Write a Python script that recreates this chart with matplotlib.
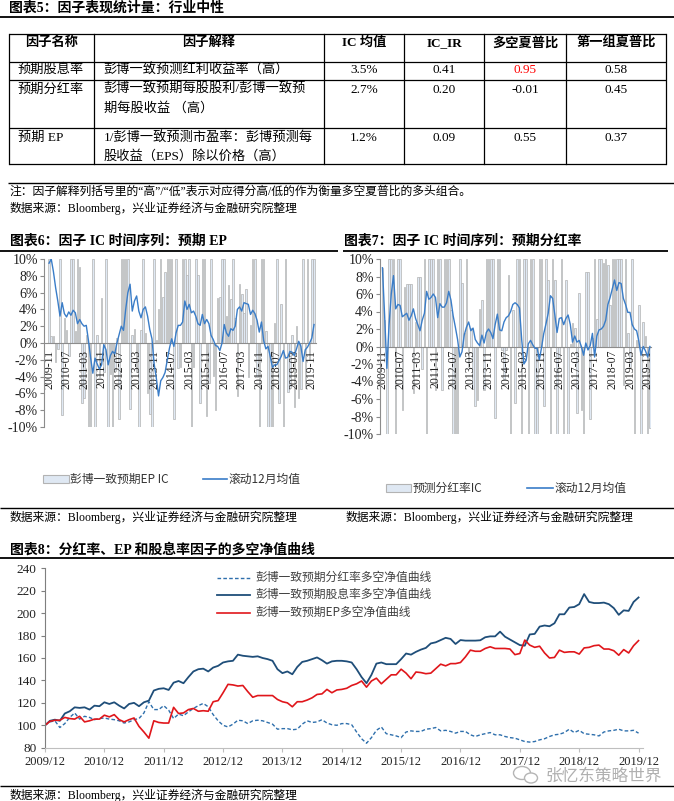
import numpy as np
import matplotlib
matplotlib.use('Agg')
import matplotlib.pyplot as plt
from matplotlib.patches import Rectangle, Ellipse

plt.rcParams['font.family'] = ['Liberation Serif', 'Noto Sans CJK SC', 'DejaVu Sans']
plt.rcParams['axes.unicode_minus'] = False

# ---------------- data ----------------
headers = ['因子名称', '因子解释', 'IC 均值', 'IC_IR', '多空夏普比', '第一组夏普比']
factor_names = ['预期股息率', '预期分红率', '预期 EP']
factor_desc = [['彭博一致预测红利收益率（高）'],
               ['彭博一致预期每股股利/彭博一致预', '期每股收益 （高）'],
               ['1/彭博一致预测市盈率：彭博预测每', '股收益（EPS）除以价格（高）']]
ic_mean = ['3.5%', '2.7%', '1.2%']
ic_ir = ['0.41', '0.20', '0.09']
ls_sharpe = ['0.95', '-0.01', '0.55']
top_sharpe = ['0.58', '0.45', '0.37']

ep_ic = [10, 0.8, 0.8, -2.3, -0.7, 10, -8.6, 3.0,
         1.5, -1.5, 10, 10, 1.4, 10, 9.1, -7.1,
         -6.5, 1.0, -10, -10, 10, -10, 0.9, -4.0,
         5.4, -3.5, 10, -10, -3.7, -10, -3.3, 0.6,
         -9.1, 10, 10, 10, 10, -7.8, 1.0, 1.7,
         -3.5, -10, 1.6, 10, 1.2, -5.9, -8.4, -10,
         10, 0.3, 4.1, 10, 5.5, 8.4, 10, 10,
         10, -9.1, 10, -3.0, -2.8, 10, 10, 8.1,
         10, -10, -2.9, 10, 8.1, -7.1, 10, 10,
         -8.7, -4.8, 10, -3.9, -8.0, 5.4, 5.5, 10,
         10, 3.2, 6.9, 5.2, 10, 3.0, -6.3, 7.0,
         5.8, 3.6, 6.4, -4.1, 2.1, 10, 10, -4.0,
         -10, 10, 10, 1.4, -10, -10, -10, 2.4,
         10, -7.1, 4.6, -10, 10, -5.8, -5.3, 1.0,
         -7.6, 2.0, -6.6, -5.5, 10, -5.4, 10, -2.0,
         10, 10]
ep_ma12 = [9.5, 10.0, 8.5, 6.6, 5.0, 3.2, 4.8, 3.5, 3.1, 3.7,
           3.3, 3.9, 3.6, 2.3, 2.8, 2.3, 2.0, 2.1, 0.3, -1.8,
           -3.6, -1.8, -2.5, -3.1, -2.6, -0.2, -0.8, -2.6, -1.5, -1.0,
           -1.3, 0.0, 1.0, 2.0, 1.5, 4.0, 6.0, 7.0, 3.8, 5.0,
           5.6, 3.8, 3.0, 4.0, 4.3, 3.2, 1.6, 0.5, -2.5, -4.2,
           -6.3, -4.5, -4.1, -3.5, -2.0, -0.6, 0.5, -0.4, 1.2, 2.1,
           2.1, 2.5, 5.0, 4.0, 4.6, 3.6, 3.8, 3.2, 2.3, 2.1,
           3.4, 2.3, 2.8, 2.3, 0.9, 0.4, -0.3, -0.4, -0.9, 0.0,
           2.2, 1.2, 0.8, 1.7, 1.5, 2.0, 4.0, 4.3, 3.8, 4.8,
           4.7, 4.6, 3.4, 3.9, 3.5, 2.7, 1.3, 2.5, 0.3, -0.7,
           -0.4, -1.6, -2.9, -2.6, -2.6, -2.1, -1.6, -0.9, -1.8, -1.7,
           -1.0, -1.1, -1.5, -0.7, 0.2, -0.4, -2.2, -0.8, -0.5, 0.0,
           0.6, 2.2]

div_ic = [9.0, 3.0, -10, 10, 10, 10, -10, 10,
          10, -7.3, 6.8, 7.1, 7.1, 7.2, -5.3, 2.8,
          8.0, 8.0, -2.6, 10, -10, 10, 10, 10,
          -5.0, 10, 10, -5.0, 10, 10, 10, 4.2,
          -10, -10, -10, 10, 7.3, 1.5, 10, -2.3,
          2.1, -4.8, -6.8, -6.1, 4.3, 5.3, -5.0, 10,
          10, 10, 10, -8.2, 10, 10, -0.4, -3.7,
          -0.4, 8.2, -10, 4.2, -6.5, 10, 10, -10,
          10, 10, -10, 10, 10, -10, -10, 10,
          10, -6.8, 10, 7.6, -10, 10, 7.6, -10,
          -1.2, 10, -10, 7.6, -10, 0.3, 2.7, 2.1,
          -7.6, 6.1, -7.2, -10, 8.5, 8.5, -8.3, 1.0,
          10, 3.2, 10, 10, 9.6, 10, 9.3, 4.8,
          10, 10, 10, 10, 10, -4.4, 10, 1.5,
          -2.3, 10, -10, 0.8, 4.7, -10, 2.8, 1.2,
          -10, -9.3]
div_ma12 = [9.0, 3.5, -2.5, 2.5, 6.0, 8.1, 4.3, 4.8, 4.7, 3.4,
            3.6, 3.8, 3.0, 3.5, 4.3, 3.2, 2.5, 1.8, 3.0, 3.8,
            6.3, 5.4, 5.6, 6.0, 5.6, 3.3, 4.9, 4.5, 4.5, 5.0,
            6.3, 5.3, 3.5, 2.2, 0.8, -1.2, -0.6, 1.3, 2.2, 2.8,
            1.8, 2.1, 0.8, 0.4, 0.1, 1.3, 0.4, 1.6, 2.0, 1.6,
            0.9, 2.5, 3.7, 1.9, 1.8, 2.8, 3.3, 3.5, 4.0, 4.8,
            5.0, 4.8, 4.4, 0.8, -2.0, -1.6, 0.3, 0.7, 0.2, -0.2,
            -0.2, -1.5, -0.1, 1.5, 2.6, 3.8, 5.8, 5.5, 3.6, 1.6,
            3.2, 3.3, 2.5, 3.2, 3.6, 2.5, 0.5, 1.2, 0.5, 0.7,
            0.0, -1.0, 0.4, -0.4, 0.1, 1.5, -1.2, 1.2, 1.9, 2.0,
            2.3, 3.0, 4.8, 5.6, 6.6, 7.6, 6.4, 7.3, 7.2, 5.5,
            4.8, 3.9, 3.9, 2.5, 2.0, 1.8, 0.6, -1.0, 0.0, -0.5,
            -1.2, 0.0]

dy_nav = [100, 104, 105, 104, 110.5, 112.5, 116, 115.5, 116, 114,
          117.5, 117, 120.5, 119, 120.5, 117.5, 115, 119, 120, 117,
          120.5, 122, 131, 132.5, 133, 131.5, 138, 139.5, 137.5, 143,
          148, 150, 150.5, 148, 151.5, 153, 156, 157, 157.5, 163,
          162, 161.5, 161, 161.5, 160, 159, 157.5, 150, 146.5, 148,
          145.5, 152, 156.5, 157.5, 159, 160.5, 158, 155, 157, 157.5,
          157.5, 157, 156, 150, 143, 137.5, 145, 155, 156, 154.5,
          154.5, 154.5, 159, 164, 163, 165.5, 167.5, 169, 173, 174,
          176, 178, 177, 172.5, 176, 175.5, 175.5, 175.5, 175.8, 178.5,
          179.3, 179.3, 183.5, 179, 176.5, 174, 171.5, 171, 181, 181.5,
          188, 189, 188.3, 191, 199, 199, 205, 205.5, 208, 217,
          210, 209, 209, 209.4, 208, 204.5, 198.5, 202.5, 202, 210,
          214]
ep_nav = [100, 103.5, 104.5, 104.5, 107, 106, 105.5, 108, 103, 104,
          105.5, 105.5, 109, 107.5, 109.5, 105, 103, 105, 106.5, 99,
          94, 88.5, 104, 102.5, 102, 102, 116, 110.5, 111, 114,
          115, 112.5, 113, 112.5, 121, 122, 129, 136.5, 136, 135,
          135.5, 130, 125, 126.5, 126.5, 126.5, 126.5, 123, 121, 120,
          116.5, 121, 121, 122.5, 124.5, 127.5, 128, 132, 129, 131.5,
          132, 133, 135.5, 137, 139.5, 134, 139.5, 142, 137, 141,
          145, 145, 150, 146.5, 141.5, 147.5, 147, 146, 146.5, 150.5,
          154.5, 153, 155, 155, 156, 161, 167, 166, 166, 168.5,
          170, 168.5, 168.5, 168.5, 168, 163, 164, 176, 171.5, 169.5,
          170.5, 164.5, 160, 160.5, 167, 165, 165.5, 165.5, 163.5, 169,
          169.5, 171, 171.5, 168, 168, 166.5, 162.5, 167.5, 164.5, 171,
          175.5]
div_nav = [100, 103, 104, 98, 101.5, 107, 111, 105.5, 108, 107,
           105, 106, 106.5, 105.5, 105, 104, 102, 103, 105, 106,
           111, 121, 114, 114, 117.5, 113.5, 106, 110, 108.5, 112,
           115, 117.5, 119.5, 116.5, 109.5, 104, 100, 98.5, 101, 104.5,
           104, 101.5, 104, 104.5, 104, 102.5, 101, 96.5, 97, 97,
           96, 96.5, 101, 104, 102.5, 103, 105, 102, 100.5, 100,
           101.5, 101.5, 100.5, 94, 88, 84, 89, 95.5, 98.5, 92.5,
           91.5, 90.5, 89, 94, 95, 94.5, 94.5, 96.5, 97, 98,
           95, 95.5, 94.5, 93, 94.5, 94.5, 91.5, 90, 91.5, 92.5,
           93.5, 91.5, 91.5, 90, 89, 88.5, 87, 85.5, 85, 85.5,
           87, 88, 90, 91.5, 92, 93.5, 96.5, 93.5, 95.5, 92.5,
           92, 91.5, 90.5, 94, 95, 95.5, 96.5, 95, 95, 95.5,
           93]

nav_labels = ['彭博一致预期分红率多空净值曲线', '彭博一致预期股息率多空净值曲线', '彭博一致预期EP多空净值曲线']
year_labels = ['2009/12', '2010/12', '2011/12', '2012/12', '2013/12', '2014/12',
               '2015/12', '2016/12', '2017/12', '2018/12', '2019/12']
ic_yticks = [-10, -8, -6, -4, -2, 0, 2, 4, 6, 8, 10]
nav_yticks = [80, 100, 120, 140, 160, 180, 200, 220, 240]

src = '数据来源：Bloomberg，兴业证券经济与金融研究院整理'

# ---------------- layout ----------------
W, H = 674, 801
fig = plt.figure(figsize=(W / 100, H / 100), dpi=100)
ov = fig.add_axes([0, 0, 1, 1])
ov.set_xlim(0, W); ov.set_ylim(H, 0); ov.axis('off')

SERIF = ['Liberation Serif', 'Noto Sans CJK SC']
SANS = ['Noto Sans CJK SC', 'DejaVu Sans']


def rect(l, t, r, b):
    return [l / W, 1 - b / H, (r - l) / W, (b - t) / H]


def hline(y, x0, x1, lw=1.0, c='black'):
    ov.plot([x0, x1], [y, y], color=c, lw=lw, solid_capstyle='butt')


def txt(x, y, s, size=9.5, fam=SERIF, **kw):
    ov.text(x, y, s, fontsize=size, family=fam, va='center', **kw)


# ---- table section ----
txt(9, 7.5, '图表5：因子表现统计量：行业中性', size=10, weight='bold')
hline(17, 0, W, lw=1.3)
tcols = [9, 94, 324, 404, 484, 566, 666]
trows = [33.5, 61.5, 79.5, 128, 164]
for y in trows:
    hline(y, tcols[0], tcols[-1], lw=0.9)
for x in tcols:
    ov.plot([x, x], [trows[0], trows[-1]], color='black', lw=0.9)
cent = [(tcols[i] + tcols[i + 1]) / 2 for i in range(6)]
for c, h in zip(cent, headers):
    txt(c, 43, h, size=9.5, weight='bold', ha='center')
row_y = [[69.7], [89.7, 108], [138, 156.3]]
best = int(np.argmax([float(v) for v in ls_sharpe]))
for i in range(3):
    y0 = row_y[i][0]
    txt(18, y0, factor_names[i])
    for j, line in enumerate(factor_desc[i]):
        txt(103.5, row_y[i][j], line)
    txt(cent[2], y0, ic_mean[i], ha='center')
    txt(cent[3], y0, ic_ir[i], ha='center')
    txt(cent[4], y0, ls_sharpe[i], ha='center', color='red' if i == best else 'black')
    txt(cent[5], y0, top_sharpe[i], ha='center')
hline(182.7, 8, W, lw=1.0)
txt(9.5, 191.7, '注：因子解释列括号里的“高”/“低”表示对应得分高/低的作为衡量多空夏普比的多头组合。', size=8.5)
txt(9.5, 208.5, src, size=8.5)

# ---- IC charts ----
txt(10, 241, '图表6：因子 IC 时间序列：预期 EP', size=10, weight='bold')
txt(344, 241, '图表7：因子 IC 时间序列：预期分红率', size=10, weight='bold')
hline(251, 0, 338, lw=1.3)
hline(251, 343, 668, lw=1.3)


def month_labels(y, m, n):
    out = []
    for i in range(n):
        mm = m - 1 + i
        out.append(f"{y + mm // 12}-{mm % 12 + 1:02d}")
    return out


BAR_FACE = '#dfe8f3'
BAR_EDGE = '#b3b3b3'
LINE_C = '#3a7dc8'
AX_C = '#8c8c8c'


def ic_chart(box, xlim, bars, ma, pad):
    ax = fig.add_axes(rect(*box))
    ax.set_facecolor('none')
    x = np.arange(len(bars))
    ax.bar(x, bars, width=0.7, color=BAR_FACE, edgecolor=BAR_EDGE, linewidth=0.5, zorder=1)
    ax.plot(np.arange(len(ma)), ma, color=LINE_C, lw=1.0, zorder=3)
    ax.set_xlim(*xlim)
    ax.set_ylim(-10, 10)
    for s in ['top', 'right']:
        ax.spines[s].set_visible(False)
    ax.spines['bottom'].set_position(('data', 0))
    ax.spines['bottom'].set_color(AX_C)
    ax.spines['left'].set_color(AX_C)
    ax.spines['bottom'].set_linewidth(0.8)
    ax.spines['left'].set_linewidth(0.8)
    labs = month_labels(2009, 11, len(bars))
    pos = list(range(0, len(bars), 8))
    ax.set_xticks(pos)
    ax.set_xticklabels([labs[p] for p in pos], rotation=90, fontsize=8.5, family=SERIF, color='#222222')
    ax.tick_params(axis='x', length=0, pad=pad)
    ax.set_yticks(ic_yticks)
    ax.set_yticklabels([f'{v}%' for v in ic_yticks], fontsize=10, family=SERIF, color='#222222')
    ax.tick_params(axis='y', direction='out', length=3, width=0.8, color=AX_C, pad=1.5)
    return ax


ic_chart((44, 259, 316, 427), (-2.3, 121.9), ep_ic, ep_ma12, 5.0)
ic_chart((380, 259, 651, 434), (-1.1, 121.5), div_ic, div_ma12, 2.5)

# legends
ov.add_patch(Rectangle((43, 475.3), 26, 8, facecolor=BAR_FACE, edgecolor=BAR_EDGE, lw=0.8))
txt(70.4, 479.3, '彭博一致预期EP IC', size=8.5, fam=SANS, color='#333333')
ov.plot([203, 227], [479.3, 479.3], color=LINE_C, lw=1.2)
txt(229, 479.3, '滚动12月均值', size=8.5, fam=SANS, color='#333333')
ov.add_patch(Rectangle((386, 484.3), 25, 8, facecolor=BAR_FACE, edgecolor=BAR_EDGE, lw=0.8))
txt(412.6, 488.3, '预测分红率IC', size=8.5, fam=SANS, color='#333333')
ov.plot([527, 553], [488.3, 488.3], color=LINE_C, lw=1.2)
txt(555, 488.3, '滚动12月均值', size=8.5, fam=SANS, color='#333333')

hline(508.3, 0, W, lw=1.0)
txt(9.5, 517.3, src, size=8.5)
txt(345.6, 517.3, src, size=8.5)

# ---- NAV chart ----
txt(10, 549.3, '图表8：分红率、EP 和股息率因子的多空净值曲线', size=10, weight='bold')
hline(558.3, 0, W, lw=1.3)

ax8 = fig.add_axes(rect(45, 568.3, 643, 747.7))
ax8.set_facecolor('none')
m = np.arange(len(dy_nav))
c_div, c_dy, c_ep = '#2e6fac', '#1f4e79', '#e0161b'
ax8.plot(np.arange(len(div_nav)), div_nav, color=c_div, lw=1.0, ls=(0, (2.6, 1.6)))
ax8.plot(m, dy_nav, color=c_dy, lw=1.3)
ax8.plot(np.arange(len(ep_nav)), ep_nav, color=c_ep, lw=1.2)
ax8.set_xlim(0, 120.9)
ax8.set_ylim(80, 240)
for s in ['top', 'right']:
    ax8.spines[s].set_visible(False)
ax8.spines['left'].set_color('#7f7f7f')
ax8.spines['bottom'].set_color('#bfbfbf')
ax8.set_xticks(list(range(0, 121, 12)))
ax8.set_xticklabels(year_labels, fontsize=9, family=SERIF, color='#222222')
ax8.set_yticks(nav_yticks)
ax8.set_yticklabels([str(v) for v in nav_yticks], fontsize=9.5, family=SERIF, color='#222222')
ax8.tick_params(axis='y', direction='out', length=3, width=0.8, color='#7f7f7f', pad=3)
ax8.tick_params(axis='x', direction='out', length=3, width=0.8, color='#bfbfbf', pad=3)

leg_y = [577.7, 594.8, 612.5]
styles = [dict(color=c_div, lw=1.0, ls=(0, (2.6, 1.6))), dict(color=c_dy, lw=1.3), dict(color=c_ep, lw=1.2)]
for yy, lab, st in zip(leg_y, nav_labels, styles):
    ov.plot([217, 250], [yy, yy], **st)
    txt(255, yy, lab, size=8.5, fam=SANS, color='#404040')

hline(786, 0, W, lw=1.0)
txt(9.5, 795.5, src, size=8.5)

# watermark on top
top = fig.add_axes([0, 0, 1, 1], zorder=10)
top.set_xlim(0, W); top.set_ylim(H, 0); top.axis('off'); top.set_facecolor('none')
top.add_patch(Ellipse((522, 773), 17, 13, facecolor='none', edgecolor='#b5b5b5', lw=1.0))
top.add_patch(Ellipse((531, 778), 13, 10, facecolor='white', edgecolor='#b5b5b5', lw=1.0))
top.text(546, 776, '张忆东策略世界', fontsize=12, family=SANS, color='#b0b0b0', va='center')

fig.savefig('out.png', dpi=100, facecolor='white')
